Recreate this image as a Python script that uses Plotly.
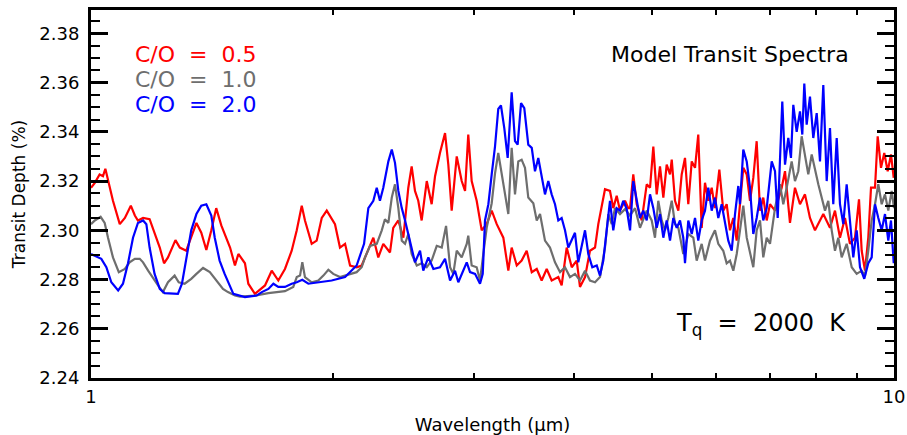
import plotly.graph_objects as go

# ---------------- data ----------------
red_wl = [1.000, 1.011, 1.025, 1.035, 1.042, 1.050, 1.065, 1.086, 1.102, 1.121, 1.134, 1.144, 1.161, 1.183, 1.200,
          1.218, 1.233, 1.247, 1.274, 1.290, 1.314, 1.333, 1.353, 1.372, 1.392, 1.412, 1.432, 1.453, 1.474,
          1.490, 1.511, 1.526, 1.555, 1.570, 1.600, 1.647, 1.679, 1.711, 1.744, 1.778, 1.804, 1.830, 1.847, 1.883,
          1.910, 1.938, 1.966, 1.994, 2.013, 2.042, 2.072, 2.102, 2.142, 2.173,
          2.205, 2.247, 2.279, 2.312, 2.357, 2.379, 2.414, 2.449, 2.484, 2.508, 2.532, 2.556, 2.581, 2.619, 2.656,
          2.682, 2.720, 2.760, 2.786, 2.813, 2.854, 2.895, 2.923, 2.950, 2.979, 3.022, 3.066, 3.110, 3.155, 3.201,
          3.262, 3.309, 3.341, 3.390, 3.438, 3.488, 3.539, 3.590, 3.641, 3.694, 3.747, 3.819, 3.856, 3.912, 3.969,
          4.026, 4.064, 4.123, 4.182, 4.243, 4.283, 4.325, 4.366, 4.429, 4.471, 4.515, 4.558, 4.624, 4.668,
          4.691, 4.735, 4.782, 4.851, 4.921, 4.968, 5.015, 5.064, 5.112, 5.161, 5.211, 5.261, 5.287, 5.337, 5.388,
          5.440, 5.492, 5.544, 5.599, 5.652, 5.705, 5.761, 5.816, 5.871, 5.929, 5.985, 6.060, 6.129, 6.189, 6.248,
          6.308, 6.370, 6.430, 6.491, 6.555, 6.617, 6.680, 6.745, 6.810, 6.874, 6.942,
          7.008, 7.109, 7.247, 7.316, 7.421, 7.528, 7.637, 7.747, 7.859, 7.973, 8.165, 8.323, 8.443, 8.565, 8.689,
          8.814, 8.942, 9.045, 9.115, 9.202, 9.289, 9.362, 9.470, 9.543, 9.634, 9.725, 9.821, 9.914, 9.992]
red_depth = [2.3173, 2.3193, 2.3227, 2.322, 2.325, 2.320, 2.312, 2.3025, 2.305, 2.310, 2.306, 2.304, 2.305, 2.3045, 2.2985,
             2.293, 2.2866, 2.289, 2.296, 2.293, 2.2917, 2.297, 2.303, 2.299, 2.292, 2.300, 2.309, 2.302, 2.297,
             2.293, 2.2857, 2.2904, 2.2866, 2.2783, 2.2742, 2.2776, 2.2836, 2.2796, 2.2843, 2.2917, 2.300, 2.310, 2.304, 2.2945,
             2.2958, 2.305, 2.308, 2.305, 2.3025, 2.293, 2.2945, 2.2857, 2.285, 2.2857,
             2.2904, 2.297, 2.289, 2.2945, 2.291, 2.301, 2.304, 2.297, 2.3173, 2.326, 2.316, 2.312, 2.304, 2.320, 2.3106,
             2.322, 2.3314, 2.3395, 2.3267, 2.308, 2.330, 2.320, 2.316, 2.3389, 2.320, 2.312, 2.300, 2.3025, 2.308, 2.3025,
             2.297, 2.2836, 2.293, 2.2857, 2.2877, 2.2917, 2.283, 2.2843, 2.2796, 2.2843, 2.2796, 2.281, 2.2776, 2.293, 2.285,
             2.2877, 2.277, 2.281, 2.2917, 2.293, 2.3025, 2.309, 2.3167, 2.316, 2.309, 2.314, 2.308, 2.312, 2.309,
             2.309, 2.3227, 2.3106, 2.304, 2.3187, 2.3173, 2.334, 2.3146, 2.326, 2.3133, 2.3267, 2.3227, 2.3287, 2.312, 2.308,
             2.3227, 2.3294, 2.3106, 2.328, 2.3254, 2.3389, 2.301, 2.3193, 2.312, 2.3173, 2.309, 2.3247, 2.308, 2.3106, 2.300,
             2.305, 2.2958, 2.3106, 2.3254, 2.3227, 2.312, 2.3213, 2.3362, 2.308, 2.3133, 2.304,
             2.3106, 2.308, 2.3173, 2.324, 2.303, 2.3173, 2.3106, 2.3146, 2.305, 2.300, 2.3066, 2.301, 2.308, 2.297, 2.305,
             2.2945, 2.297, 2.3126, 2.2917, 2.2836, 2.297, 2.3173, 2.3173, 2.3382, 2.3254, 2.3314, 2.324, 2.3308, 2.3213]

gray_wl = [1.000, 1.011, 1.028, 1.040, 1.050, 1.065, 1.083, 1.102, 1.117, 1.134, 1.150, 1.161, 1.178, 1.195, 1.212,
           1.229, 1.247, 1.271, 1.286, 1.308, 1.333, 1.353, 1.379, 1.406, 1.432, 1.460, 1.481, 1.511, 1.533, 1.600,
           1.663, 1.744, 1.786, 1.804, 1.821, 1.833, 1.847, 1.883, 1.919, 1.947, 1.975, 2.003, 2.042, 2.091, 2.142, 2.173,
           2.194, 2.226, 2.269, 2.302, 2.323, 2.346, 2.369, 2.391, 2.414, 2.438, 2.461, 2.484, 2.508, 2.545, 2.581,
           2.619, 2.656, 2.695, 2.734, 2.768, 2.800, 2.826, 2.854, 2.895, 2.937, 2.950, 2.979, 3.022, 3.051, 3.080,
           3.110, 3.155, 3.185, 3.215,
           3.262, 3.309, 3.341, 3.373, 3.405, 3.438, 3.471, 3.504, 3.555, 3.590, 3.624, 3.676, 3.729, 3.783, 3.838,
           3.893, 3.949, 4.006, 4.064, 4.123, 4.182, 4.243, 4.304, 4.366, 4.408, 4.451, 4.493, 4.558, 4.624, 4.691,
           4.759, 4.827, 4.921, 4.992, 5.039, 5.087, 5.137, 5.186, 5.235, 5.287, 5.337, 5.388, 5.465, 5.544, 5.624,
           5.679, 5.761, 5.816, 5.900, 5.985, 6.042, 6.129, 6.189, 6.248, 6.308, 6.370, 6.430, 6.491, 6.555, 6.617,
           6.680, 6.745, 6.810, 6.874, 6.942,
           7.008, 7.109, 7.211, 7.280, 7.351, 7.457, 7.528, 7.600, 7.674, 7.747, 7.821, 7.898, 7.973, 8.049, 8.127,
           8.205, 8.283, 8.364, 8.443, 8.524, 8.607, 8.731, 8.858, 8.985, 9.115, 9.202, 9.289, 9.380, 9.470, 9.560,
           9.653, 9.745, 9.838, 9.934, 10.0]
gray_depth = [2.3025, 2.304, 2.3055, 2.303, 2.297, 2.289, 2.283, 2.2843, 2.287, 2.2884, 2.2884, 2.287, 2.2836, 2.2803, 2.2776,
              2.2749, 2.2789, 2.2816, 2.2789, 2.2783, 2.2803, 2.2823, 2.2847, 2.283, 2.2796, 2.2762, 2.2749, 2.2735, 2.2731, 2.2735,
              2.2745, 2.2753, 2.277, 2.281, 2.2816, 2.287, 2.281, 2.2789, 2.2796, 2.2816, 2.284, 2.2823, 2.281, 2.282, 2.283, 2.285,
              2.289, 2.2937, 2.2945, 2.300, 2.3045, 2.303, 2.3133, 2.3187, 2.309, 2.2958, 2.2945, 2.2985, 2.2904, 2.2857, 2.2866,
              2.285, 2.2877, 2.2937, 2.293, 2.3018, 2.285, 2.2823, 2.2917, 2.289, 2.2945, 2.2978, 2.2857, 2.285, 2.2796, 2.2904,
              2.301, 2.311, 2.323, 2.3314,
              2.3187, 2.3066, 2.3335, 2.3146, 2.328, 2.3287, 2.3254, 2.3133, 2.311, 2.304, 2.3066, 2.2958, 2.293, 2.287, 2.283,
              2.285, 2.281, 2.2823, 2.2796, 2.2836, 2.2796, 2.2789, 2.281, 2.293, 2.3066, 2.3025, 2.309, 2.3066, 2.3086, 2.306,
              2.309, 2.301, 2.308, 2.304, 2.297, 2.312, 2.304, 2.300, 2.305, 2.312, 2.3025, 2.301, 2.2904, 2.2985, 2.297,
              2.2877, 2.2945, 2.2877, 2.2958, 2.300, 2.2945, 2.2917, 2.2866, 2.2877, 2.2836, 2.2904, 2.300, 2.310, 2.297, 2.2904,
              2.285, 2.300, 2.304, 2.289, 2.297,
              2.2945, 2.309, 2.3187, 2.3106, 2.3173, 2.328, 2.320, 2.324, 2.3382, 2.3308, 2.3227, 2.3308, 2.324, 2.3187, 2.3133,
              2.308, 2.312, 2.300, 2.2917, 2.297, 2.289, 2.2945, 2.285, 2.2823, 2.2836, 2.2816, 2.2917, 2.304, 2.3106, 2.3187,
              2.3106, 2.3146, 2.308, 2.316, 2.309]

blue_wl = [1.000, 1.015, 1.030, 1.045, 1.060, 1.081, 1.096, 1.112, 1.128, 1.144, 1.161, 1.172, 1.183, 1.200, 1.218,
           1.235, 1.259, 1.283, 1.298, 1.314, 1.333, 1.353, 1.372, 1.392, 1.412, 1.426, 1.446, 1.467, 1.504, 1.555,
           1.608, 1.632, 1.663, 1.687, 1.711, 1.744, 1.778, 1.804, 1.833, 1.865, 1.919, 1.994, 2.072, 2.112, 2.142, 2.173,
           2.188, 2.215, 2.247, 2.269, 2.290, 2.312, 2.346, 2.369, 2.391, 2.414, 2.438, 2.461, 2.496, 2.532, 2.569,
           2.593, 2.631, 2.669, 2.720, 2.760, 2.800, 2.840, 2.867, 2.908, 2.937, 2.965, 3.008, 3.051, 3.075, 3.095,
           3.125, 3.155,
           3.185, 3.215, 3.240, 3.271, 3.303, 3.341, 3.373, 3.399, 3.432, 3.464, 3.504, 3.539, 3.572, 3.606, 3.641,
           3.676, 3.711, 3.747, 3.783, 3.819, 3.856, 3.893, 3.930, 3.969, 4.006, 4.044, 4.084, 4.123, 4.162, 4.210,
           4.264, 4.304, 4.345, 4.388, 4.429, 4.471, 4.515, 4.558, 4.601, 4.647,
           4.691, 4.735, 4.782, 4.827, 4.873, 4.921, 4.968, 5.015, 5.064, 5.112, 5.161, 5.211, 5.261, 5.311, 5.363,
           5.414, 5.465, 5.492, 5.544, 5.599, 5.652, 5.705, 5.761, 5.816, 5.871, 5.929, 5.985, 6.042, 6.101, 6.159,
           6.218, 6.279, 6.339, 6.399, 6.430, 6.491, 6.555, 6.617, 6.680, 6.745, 6.810, 6.874, 6.942,
           7.042, 7.109, 7.164, 7.211, 7.259, 7.316, 7.385, 7.442, 7.492, 7.565, 7.637, 7.688, 7.732, 7.785, 7.859,
           7.934, 8.012, 8.088, 8.165, 8.245, 8.323, 8.402, 8.485, 8.565, 8.647, 8.731, 8.814, 8.898, 8.985, 9.071,
           9.183, 9.289, 9.380, 9.470, 9.560, 9.653, 9.745, 9.838, 9.914, 9.992]
blue_depth = [2.2904, 2.2893, 2.2884, 2.285, 2.2789, 2.2756, 2.2783, 2.2866, 2.297, 2.303, 2.304, 2.3025, 2.293, 2.2823, 2.2762,
              2.2745, 2.2745, 2.2742, 2.2783, 2.2877, 2.300, 2.3066, 2.310, 2.3106, 2.306, 2.297, 2.2877, 2.2823, 2.2742, 2.2729,
              2.2735, 2.2749, 2.2762, 2.2783, 2.277, 2.277, 2.2783, 2.2789, 2.2799, 2.2783, 2.2789, 2.2796, 2.281, 2.2836, 2.2857, 2.2917,
              2.2945, 2.309, 2.312, 2.3173, 2.312, 2.3173, 2.328, 2.3328, 2.3274, 2.316, 2.309, 2.304, 2.2958, 2.287, 2.2917,
              2.2836, 2.289, 2.2843, 2.285, 2.2884, 2.2796, 2.2836, 2.2789, 2.2836, 2.287, 2.283, 2.2823, 2.2783, 2.2823, 2.304,
              2.3106, 2.3227,
              2.334, 2.3493, 2.3507, 2.3415, 2.3294, 2.3561, 2.3362, 2.3348, 2.3517, 2.3496, 2.3348, 2.3335, 2.324, 2.3294, 2.3227,
              2.3146, 2.320, 2.3146, 2.3106, 2.304, 2.305, 2.300, 2.293, 2.2958, 2.299, 2.287, 2.293, 2.300, 2.2904, 2.285,
              2.2857, 2.2816, 2.2877, 2.300, 2.312, 2.300, 2.309, 2.308, 2.312, 2.3086,
              2.300, 2.320, 2.312, 2.305, 2.308, 2.304, 2.3146, 2.309, 2.301, 2.3066, 2.297, 2.304, 2.2958, 2.305, 2.301,
              2.304, 2.297, 2.2866, 2.304, 2.2985, 2.305, 2.2958, 2.304, 2.308, 2.3173, 2.308, 2.3133, 2.305, 2.3106, 2.3025,
              2.2958, 2.2917, 2.3066, 2.318, 2.3106, 2.3328, 2.328, 2.3173, 2.2985, 2.305, 2.3133, 2.304, 2.309,
              2.328, 2.324, 2.305, 2.3308, 2.3523, 2.3267, 2.3375, 2.3294, 2.351, 2.340, 2.3483, 2.3389, 2.3596, 2.3429, 2.3543,
              2.3375, 2.3476, 2.328, 2.359, 2.320, 2.3415, 2.3106, 2.3375, 2.3106, 2.3025, 2.3187, 2.3025, 2.289, 2.300, 2.285,
              2.2803, 2.2866, 2.289, 2.3106, 2.305, 2.300, 2.3066, 2.2958, 2.304, 2.2866]

series_names = ["C/O = 0.5", "C/O = 1.0", "C/O = 2.0"]
series_colors = ["#ff0000", "#6e6e6e", "#0000ff"]
x_major_ticks = [1, 10]
x_major_labels = ["1", "10"]
x_minor_ticks = [2, 3, 4, 5, 6, 7, 8, 9]

FONT = "DejaVu Sans"
NB = "\u00a0"

fig = go.Figure()
for wl, dep, name, col in zip([red_wl, gray_wl, blue_wl], [red_depth, gray_depth, blue_depth],
                              series_names, series_colors):
    fig.add_trace(go.Scatter(x=wl, y=dep, mode="lines", name=name,
                             line=dict(color=col, width=2.2), showlegend=False))

# legend texts
for i, (name, col) in enumerate(zip(series_names, series_colors)):
    fig.add_annotation(xref="paper", yref="paper", x=0.052, y=0.878 - i * 0.068,
                       xanchor="left", yanchor="middle", showarrow=False,
                       text=name.replace(" ", NB * 2),
                       font=dict(family=FONT, size=22, color=col))

fig.add_annotation(xref="paper", yref="paper", x=0.9465, y=0.878, xanchor="right", yanchor="middle",
                   showarrow=False, text="Model Transit Spectra",
                   font=dict(family=FONT, size=22, color="black"))
fig.add_annotation(xref="paper", yref="paper", x=0.7265, y=0.145, xanchor="left", yanchor="middle",
                   showarrow=False, text="T<sub>q</sub>" + NB * 2 + "=" + NB * 2 + "2000" + NB * 2 + "K",
                   font=dict(family=FONT, size=24, color="black"))

fig.update_layout(
    width=907, height=435,
    margin=dict(l=91, r=13, t=10, b=57, autoexpand=False),
    paper_bgcolor="white", plot_bgcolor="white",
    font=dict(family=FONT, color="black"),
    xaxis=dict(type="log", range=[0, 1], automargin=False,
               tickmode="array", tickvals=x_major_ticks, ticktext=x_major_labels,
               ticks="inside", ticklen=0, tickwidth=2.5, tickcolor="black",
               minor=dict(tickmode="array", tickvals=x_minor_ticks, ticks="inside", ticklen=5,
                          tickwidth=2, tickcolor="black", showgrid=False),
               showline=True, linewidth=3, linecolor="black", mirror="allticks",
               showgrid=False, zeroline=False,
               tickfont=dict(family=FONT, size=18),
               title=dict(text="Wavelength (\u03bcm)", font=dict(family=FONT, size=18), standoff=14)),
    yaxis=dict(range=[2.24, 2.3895], tick0=2.24, dtick=0.02, tickformat=".2f", automargin=False,
               ticks="inside", ticklen=17, tickwidth=2.5, tickcolor="black",
               minor=dict(dtick=0.005, tick0=2.24, ticks="inside", ticklen=9, tickwidth=2,
                          tickcolor="black", showgrid=False),
               showline=True, linewidth=3, linecolor="black", mirror="allticks",
               showgrid=False, zeroline=False,
               tickfont=dict(family=FONT, size=18),
               ticklabelstandoff=5,
               title=dict(text="Transit Depth (%)", font=dict(family=FONT, size=17), standoff=10)),
)

fig.write_html("out.html")
